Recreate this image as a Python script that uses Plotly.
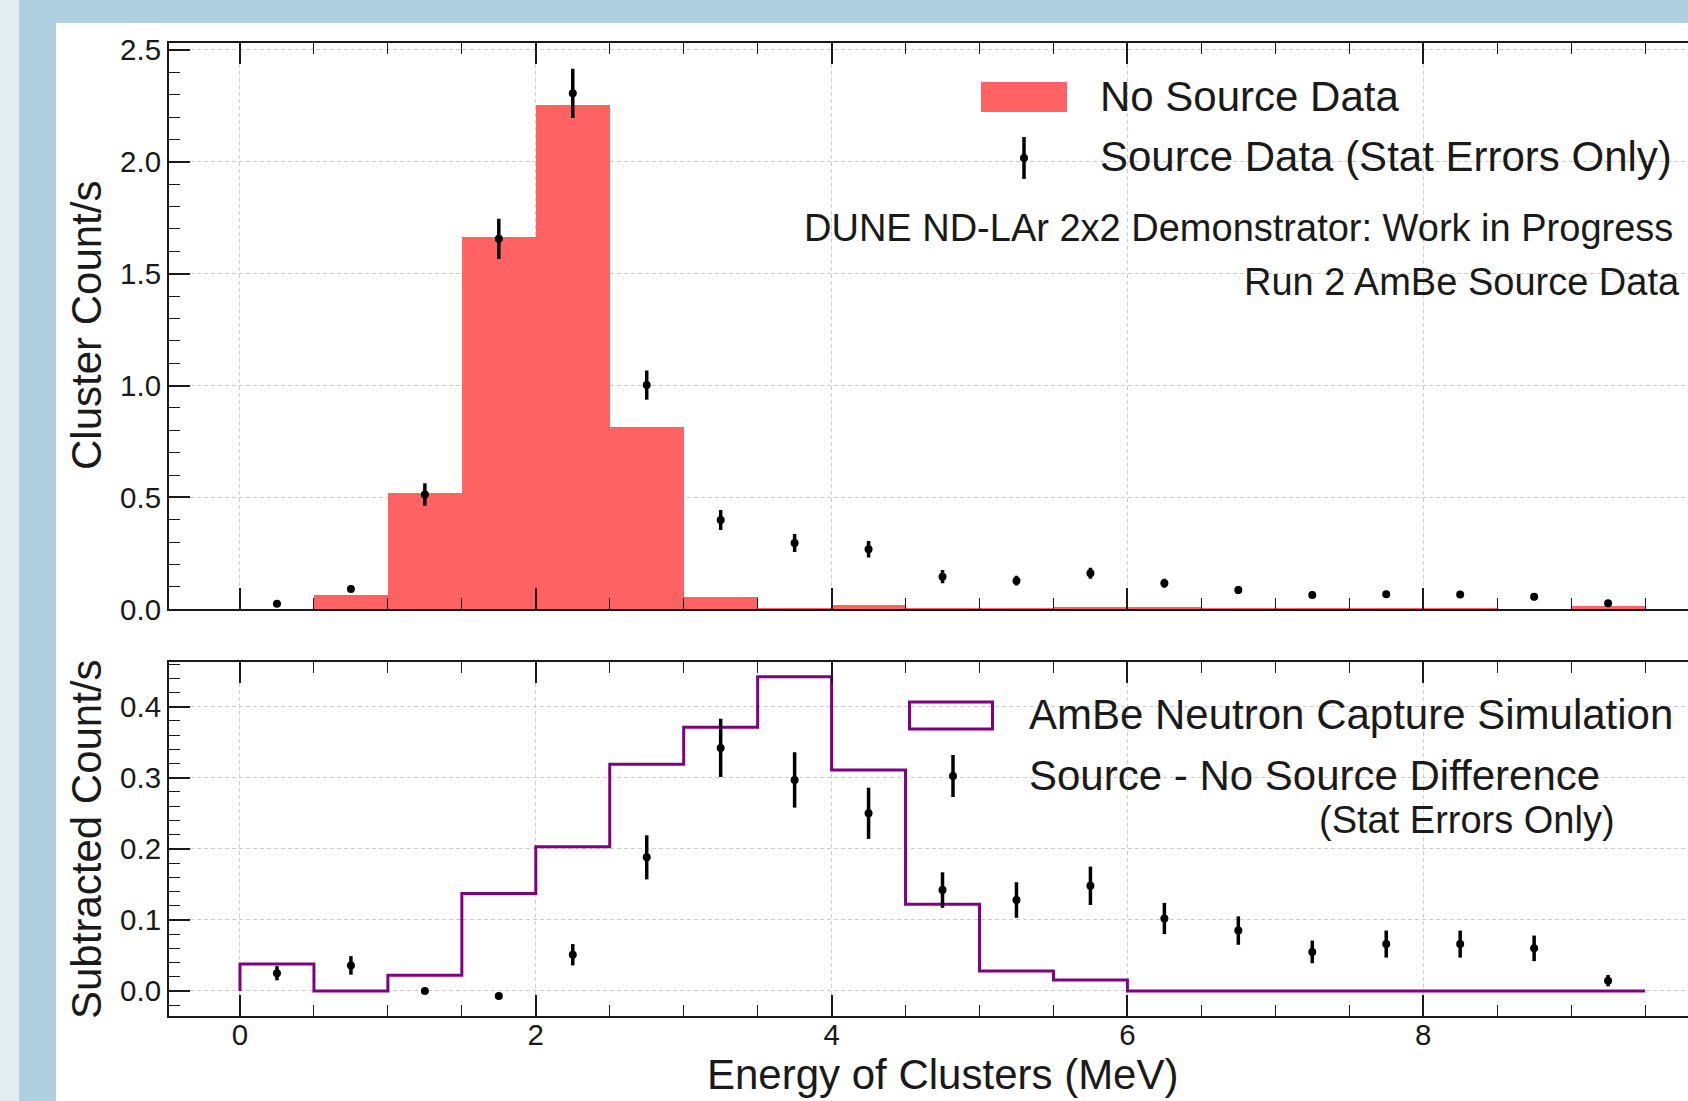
import plotly.graph_objects as go

# ---------------- data ----------------
bin_edges = [0.0, 0.5, 1.0, 1.5, 2.0, 2.5, 3.0, 3.5, 4.0, 4.5, 5.0,
             5.5, 6.0, 6.5, 7.0, 7.5, 8.0, 8.5, 9.0, 9.5]
bin_centers = [0.25, 0.75, 1.25, 1.75, 2.25, 2.75, 3.25, 3.75, 4.25, 4.75,
               5.25, 5.75, 6.25, 6.75, 7.25, 7.75, 8.25, 8.75, 9.25]

no_source_rate = [0.0, 0.063, 0.52, 1.665, 2.255, 0.815, 0.054, 0.004, 0.019, 0.004,
                  0.004, 0.012, 0.012, 0.005, 0.005, 0.005, 0.004, 0.0, 0.013]
source_rate = [0.025, 0.091, 0.513, 1.656, 2.306, 1.002, 0.399, 0.296, 0.268, 0.146,
               0.128, 0.161, 0.116, 0.086, 0.064, 0.067, 0.066, 0.056, 0.027]
source_err = [0.010, 0.014, 0.050, 0.090, 0.110, 0.065, 0.045, 0.040, 0.037, 0.030,
              0.022, 0.025, 0.020, 0.018, 0.015, 0.015, 0.015, 0.015, 0.012]

sim_rate = [0.038, 0.0, 0.022, 0.137, 0.203, 0.319, 0.371, 0.442, 0.311, 0.122,
            0.028, 0.0155, 0.0, 0.0, 0.0, 0.0, 0.0, 0.0, 0.0]
diff_rate = [0.025, 0.036, 0.0, -0.007, 0.051, 0.188, 0.342, 0.297, 0.250, 0.142,
             0.128, 0.148, 0.102, 0.085, 0.055, 0.066, 0.066, 0.060, 0.0145]
diff_err = [0.010, 0.013, 0.002, 0.002, 0.015, 0.031, 0.041, 0.039, 0.036, 0.025,
            0.025, 0.027, 0.022, 0.020, 0.016, 0.019, 0.019, 0.018, 0.008]

# ---------------- geometry (pixels) ----------------
W, H = 1688, 1101
ML, MR, MT, MB = 169, 0, 43, 85
PW, PH = W - ML - MR, H - MT - MB


def px(x):
    return (x - ML) / PW


def py(y):
    return (H - MB - y) / PH


FONT = "Liberation Sans, Arial, sans-serif"
INK = "#1a1a1a"
RED = "#ff6262"
PURPLE = "#800080"
GRID = "#cccccc"

fig = go.Figure()

# top panel
fig.add_trace(go.Bar(x=bin_centers, y=no_source_rate, width=0.5,
                     marker=dict(color=RED, line=dict(width=0)),
                     xaxis="x", yaxis="y", showlegend=False))
fig.add_trace(go.Scatter(x=bin_centers, y=source_rate, mode="markers",
                         marker=dict(color="black", size=8),
                         error_y=dict(type="data", array=source_err, thickness=3.5,
                                      width=0, color="black"),
                         xaxis="x", yaxis="y", showlegend=False))

# bottom panel: step outline of simulation
step_x = [bin_edges[0]] + bin_edges + [bin_edges[-1]]
step_y = [0.0] + sim_rate + [sim_rate[-1], 0.0]
fig.add_trace(go.Scatter(x=step_x, y=step_y, mode="lines",
                         line=dict(color=PURPLE, width=3, shape="hv"),
                         xaxis="x2", yaxis="y2", showlegend=False))
fig.add_trace(go.Scatter(x=bin_centers, y=diff_rate, mode="markers",
                         marker=dict(color="black", size=8),
                         error_y=dict(type="data", array=diff_err, thickness=3.5,
                                      width=0, color="black"),
                         xaxis="x2", yaxis="y2", showlegend=False))

xr = [-0.48, -0.48 + PW / 147.9]
top_dom = [py(609.3), 1.0]
bot_dom = [0.0, py(661.7)]

common_x = dict(range=xr, showline=True, linewidth=2, linecolor=INK, mirror="ticks",
                ticks="inside", ticklen=21, tickwidth=1.6, tickcolor=INK,
                dtick=2, tick0=0, showgrid=True, gridcolor=GRID, griddash="4px,3px",
                gridwidth=1, zeroline=False,
                minor=dict(dtick=0.5, tick0=0, ticks="inside", ticklen=11, tickwidth=1.4,
                           tickcolor=INK, showgrid=False),
                tickfont=dict(family=FONT, size=29.5, color=INK))
common_y = dict(showline=True, linewidth=2, linecolor=INK, mirror=False,
                ticks="inside", ticklen=21, tickwidth=1.6, tickcolor=INK,
                showgrid=True, gridcolor=GRID, griddash="4px,3px", gridwidth=1,
                zeroline=False, tickformat=".1f",
                tickfont=dict(family=FONT, size=29.5, color=INK))

fig.update_layout(
    width=W, height=H,
    margin=dict(l=ML, r=MR, t=MT, b=MB),
    paper_bgcolor="white", plot_bgcolor="white",
    bargap=0, showlegend=False,
    xaxis=dict(common_x, anchor="y", domain=[0, 1], showticklabels=False, matches="x2"),
    yaxis=dict(common_y, anchor="x", domain=top_dom, range=[0, 2.531], dtick=0.5, tick0=0,
               minor=dict(dtick=0.1, tick0=0, ticks="inside", ticklen=11, tickwidth=1.4,
                          tickcolor=INK, showgrid=False)),
    xaxis2=dict(common_x, anchor="y2", domain=[0, 1], showticklabels=True,
                ticklabelstandoff=-8),
    yaxis2=dict(common_y, anchor="x2", domain=bot_dom, range=[-0.0352, 0.4633], dtick=0.1,
                tick0=0,
                minor=dict(dtick=0.02, tick0=0, ticks="inside", ticklen=11, tickwidth=1.4,
                           tickcolor=INK, showgrid=False)),
)

shapes = []
# slide background strips
shapes.append(dict(type="rect", xref="paper", yref="paper", layer="below",
                   x0=px(0), x1=px(19), y0=py(H), y1=py(0),
                   fillcolor="#e3ecf0", line=dict(width=0)))
shapes.append(dict(type="rect", xref="paper", yref="paper", layer="below",
                   x0=px(19), x1=px(56), y0=py(H), y1=py(0),
                   fillcolor="#afd0e1", line=dict(width=0)))
shapes.append(dict(type="rect", xref="paper", yref="paper", layer="below",
                   x0=px(19), x1=px(W), y0=py(23), y1=py(0),
                   fillcolor="#afd0e1", line=dict(width=0)))
# legend handles, top panel
shapes.append(dict(type="rect", xref="paper", yref="paper",
                   x0=px(981), x1=px(1067), y0=py(112), y1=py(82),
                   fillcolor=RED, line=dict(width=0)))
shapes.append(dict(type="line", xref="paper", yref="paper",
                   x0=px(1024), x1=px(1024), y0=py(179), y1=py(137),
                   line=dict(color="black", width=3.5)))
shapes.append(dict(type="circle", xref="paper", yref="paper",
                   x0=px(1020), x1=px(1028), y0=py(162), y1=py(154),
                   fillcolor="black", line=dict(width=0)))
# legend handles, bottom panel
shapes.append(dict(type="rect", xref="paper", yref="paper",
                   x0=px(909.5), x1=px(992.5), y0=py(729), y1=py(702),
                   fillcolor="rgba(0,0,0,0)", line=dict(color=PURPLE, width=3)))
shapes.append(dict(type="line", xref="paper", yref="paper",
                   x0=px(953), x1=px(953), y0=py(797), y1=py(755),
                   line=dict(color="black", width=3.5)))
shapes.append(dict(type="circle", xref="paper", yref="paper",
                   x0=px(949), x1=px(957), y0=py(780), y1=py(772),
                   fillcolor="black", line=dict(width=0)))
fig.update_layout(shapes=shapes)


def label(text, x, y, size, xanchor="left", angle=0):
    return dict(text=text, xref="paper", yref="paper", x=px(x), y=py(y),
                xanchor=xanchor, yanchor="middle", showarrow=False, textangle=angle,
                font=dict(family=FONT, size=size, color=INK))


annots = [
    label("No Source Data", 1098, 97, 42),
    label("Source Data (Stat Errors Only)", 1098, 157, 42),
    label("DUNE ND-LAr 2x2 Demonstrator: Work in Progress", 1675, 228, 38, "right"),
    label("Run 2 AmBe Source Data", 1682, 282, 38, "right"),
    label("AmBe Neutron Capture Simulation", 1027, 715, 42),
    label("Source - No Source Difference", 1027, 775, 42),
    label("(Stat Errors Only)", 1617, 820, 38, "right"),
    label("Energy of Clusters (MeV)", 942, 1074, 42, "center"),
    label("Cluster Count/s", 86, 326, 42, "center", -90),
    label("Subtracted Count/s", 86, 839, 42, "center", -90),
]
fig.update_layout(annotations=annots)

fig.write_html("out.html",
               config={"displayModeBar": False},
               post_script="document.body.style.margin='0px';"
                           "document.body.style.overflow='hidden';")
